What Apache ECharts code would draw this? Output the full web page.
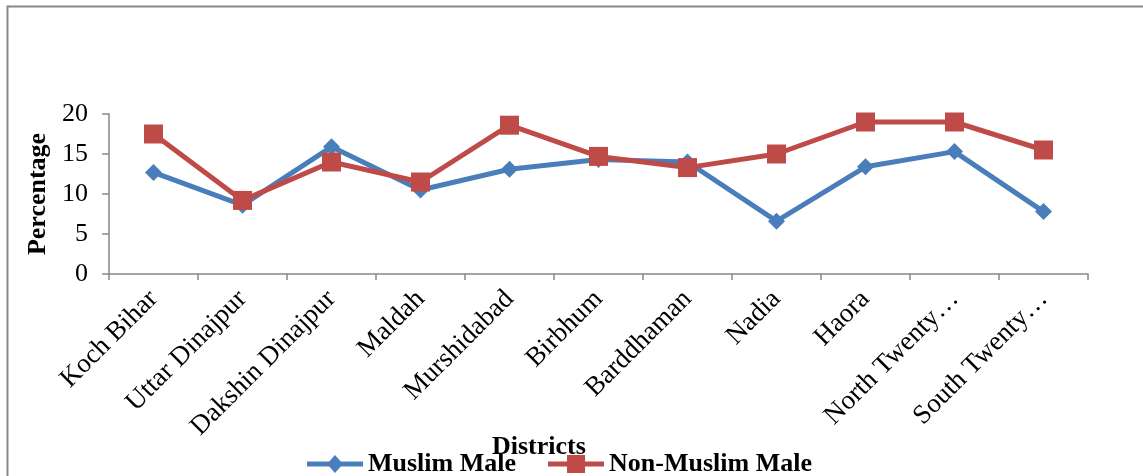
<!DOCTYPE html>
<html>
<head>
<meta charset="utf-8">
<script src="https://cdn.jsdelivr.net/npm/echarts@6/dist/echarts.min.js"></script>
<style>
  html, body { margin: 0; padding: 0; background: #fff; }
  #chart { width: 1143px; height: 476px; }
</style>
</head>
<body>
<div id="chart"></div>
<script>
// District-wise percentages for male population groups
const districts = [
  'Koch Bihar', 'Uttar Dinajpur', 'Dakshin Dinajpur', 'Maldah', 'Murshidabad',
  'Birbhum', 'Barddhaman', 'Nadia', 'Haora',
  'North Twenty Four Parganas', 'South Twenty Four Parganas'
];
const muslimMale    = [12.7, 8.6, 15.9, 10.5, 13.1, 14.3, 14.0, 6.6, 13.4, 15.3, 7.8];
const nonMuslimMale = [17.5, 9.2, 14.0, 11.5, 18.6, 14.7, 13.3, 15.0, 19.0, 19.0, 15.5];
const yTicks = [0, 5, 10, 15, 20];

const serif = '"Liberation Serif", "Times New Roman", serif';
const axisGray = '#888888';
const blue = '#4A7EBB';
const red = '#BE4B48';

// Legend keys: a thick line segment with the series marker in the middle
const diamondKey = 'path://M0,6.5L56,6.5L56,11.5L0,11.5Z M28,0L36,9L28,18L20,9Z';
const squareKey  = 'path://M0,6.5L56,6.5L56,11.5L0,11.5Z M19,0L37,0L37,18L19,18Z';

// Long district names are shortened with an ellipsis on the axis
function shortLabel(name) {
  return name.length > 16 ? name.slice(0, 12) + '…' : name;
}

const chart = echarts.init(document.getElementById('chart'));
chart.setOption({
  backgroundColor: '#ffffff',
  animation: false,
  title: {
    text: 'Districts',
    left: 492,
    top: 434,
    padding: 0,
    textStyle: { fontFamily: serif, fontWeight: 'bold', fontSize: 26, color: '#000' }
  },
  legend: {
    left: 307,
    top: 451,
    padding: 0,
    itemWidth: 56,
    itemHeight: 18,
    itemGap: 32,
    textStyle: { fontFamily: serif, fontWeight: 'bold', fontSize: 26, color: '#000' },
    data: [
      { name: 'Muslim Male', icon: diamondKey, itemStyle: { color: blue } },
      { name: 'Non-Muslim Male', icon: squareKey, itemStyle: { color: red } }
    ]
  },
  grid: { left: 109, right: 55, top: 114, bottom: 202, containLabel: false },
  xAxis: {
    type: 'category',
    data: districts,
    boundaryGap: true,
    axisLine: { lineStyle: { color: axisGray, width: 1.5 } },
    axisTick: { show: true, length: 6, lineStyle: { color: axisGray, width: 1.5 } },
    axisLabel: {
      interval: 0,
      rotate: 45,
      margin: 21,
      fontFamily: serif,
      fontSize: 27,
      color: '#000',
      formatter: shortLabel
    }
  },
  yAxis: {
    type: 'value',
    min: yTicks[0],
    max: yTicks[yTicks.length - 1],
    interval: 5,
    name: 'Percentage',
    nameLocation: 'middle',
    nameRotate: 90,
    nameGap: 58,
    nameTextStyle: { fontFamily: serif, fontWeight: 'bold', fontSize: 26, color: '#000' },
    axisLine: { show: true, lineStyle: { color: axisGray, width: 1.5 } },
    axisTick: { show: true, length: 7, lineStyle: { color: axisGray, width: 1.5 } },
    splitLine: { show: false },
    axisLabel: { fontFamily: serif, fontSize: 26, color: '#000', margin: 21 }
  },
  series: [
    {
      name: 'Muslim Male',
      type: 'line',
      data: muslimMale,
      symbol: 'diamond',
      symbolSize: 17,
      lineStyle: { color: blue, width: 5 },
      itemStyle: { color: blue },
      z: 2
    },
    {
      name: 'Non-Muslim Male',
      type: 'line',
      data: nonMuslimMale,
      symbol: 'rect',
      symbolSize: 19,
      lineStyle: { color: red, width: 5 },
      itemStyle: { color: red },
      z: 3
    }
  ],
  graphic: [
    {
      type: 'rect',
      silent: true,
      shape: { x: 7.5, y: 6.5, width: 1200, height: 600 },
      style: { fill: 'none', stroke: '#888888', lineWidth: 2 }
    }
  ]
});
</script>
</body>
</html>
